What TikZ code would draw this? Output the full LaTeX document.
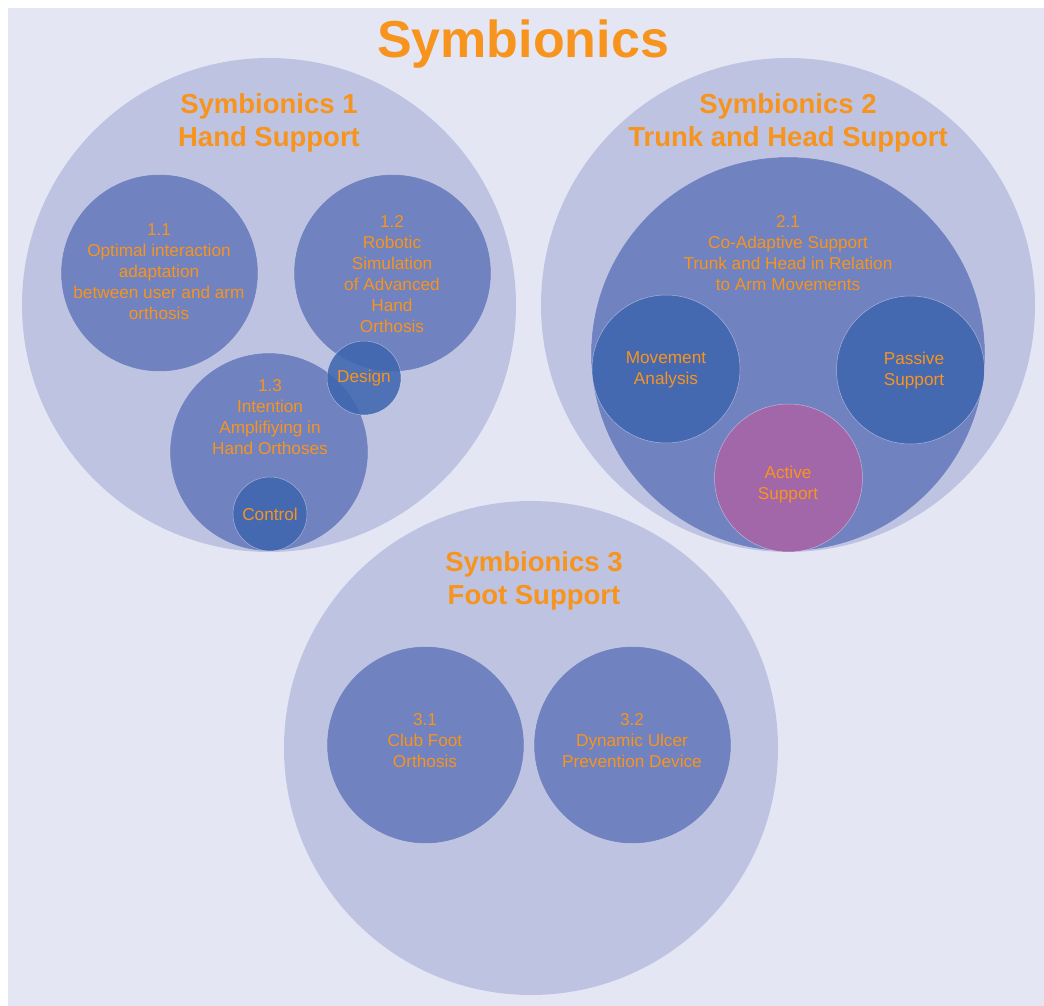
\documentclass[tikz,border=0pt]{standalone}
\usepackage{fontspec}
\setmainfont{Liberation Sans}
\definecolor{bgc}{HTML}{E4E7F3}
\definecolor{bigc}{HTML}{BFC3E2}
\definecolor{midc}{HTML}{7082BF}
\definecolor{darkc}{HTML}{4066B0}
\definecolor{activec}{HTML}{A267A8}
\definecolor{orangec}{HTML}{F7941E}
\begin{document}
\begin{tikzpicture}[x=1pt,y=-1pt,
  bigcircle/.style={circle,fill=bigc,minimum size=494pt,inner sep=0pt},
  midcircle/.style={circle,fill=midc,draw=white,draw opacity=0.35,line width=0.5pt,inner sep=0pt},
  darkcircle/.style={circle,fill=darkc,fill opacity=0.88,draw=white,draw opacity=0.45,line width=0.5pt,minimum size=148pt,inner sep=0pt},
  headtxt/.style={text=orangec,font=\bfseries\fontsize{27.5}{33}\selectfont,align=center,inner sep=0pt},
  smalltxt/.style={text=orangec,font=\fontsize{17.2}{21}\selectfont,align=center,inner sep=0pt},
  titletxt/.style={text=orangec,font=\bfseries\fontsize{52}{60}\selectfont,inner sep=0pt}]
\useasboundingbox (0,0) rectangle (1044,1006);
\fill[bgc] (8,8) rectangle (1044,1006);
% big circles
\node[bigcircle] (s1) at (269,305) {};
\node[bigcircle] (s2) at (788,305) {};
\node[bigcircle] (s3) at (531,748) {};
% medium circles
\node[midcircle,minimum size=197pt] (c11) at (159.5,273) {};
\node[midcircle,minimum size=197pt] (c12) at (392.5,273) {};
\node[midcircle,minimum size=198pt] (c13) at (269,452) {};
\node[midcircle,minimum size=394pt] (c21) at (788,354) {};
\node[midcircle,minimum size=197pt] (c31) at (425.5,745) {};
\node[midcircle,minimum size=197pt] (c32) at (632.5,745) {};
% small circles
\node[darkcircle,minimum size=74pt] (design) at (364,378) {};
\node[darkcircle,minimum size=74pt] (control) at (270,514) {};
\node[darkcircle] (mova) at (666,369) {};
\node[darkcircle] (pass) at (910.5,370) {};
\node[darkcircle,fill=activec,fill opacity=1] (act) at (788.5,478) {};
% texts
\node[titletxt] (title) at (523,44.5) {Symbionics};
\node[headtxt] (h1) at (269,122.5) {Symbionics 1\\Hand Support};
\node[headtxt] (h2) at (788,122.5) {Symbionics 2\\Trunk and Head Support};
\node[headtxt] (h3) at (534,580.5) {Symbionics 3\\Foot Support};
\node[smalltxt] (t11) at (159,271.5) {1.1\\Optimal interaction\\adaptation\\between user and arm\\orthosis};
\node[smalltxt] (t12) at (392,274) {1.2\\Robotic\\Simulation\\of Advanced\\Hand\\Orthosis};
\node[smalltxt] (t13) at (270,417) {1.3\\Intention\\Amplifiying in\\Hand Orthoses};
\node[smalltxt] (tdesign) at (364,378.5) {Design};
\node[smalltxt] (tcontrol) at (270,514.5) {Control};
\node[smalltxt] (t21) at (788,253) {2.1\\Co-Adaptive Support\\Trunk and Head in Relation\\to Arm Movements};
\node[smalltxt] (tmova) at (666,369.5) {Movement\\Analysis};
\node[smalltxt] (tpass) at (914,370.5) {Passive\\Support};
\node[smalltxt] (tact) at (788,485) {Active\\Support};
\node[smalltxt] (t31) at (425,740.5) {3.1\\Club Foot\\Orthosis};
\node[smalltxt] (t32) at (632,740.5) {3.2\\Dynamic Ulcer\\Prevention Device};
\end{tikzpicture}
\end{document}
